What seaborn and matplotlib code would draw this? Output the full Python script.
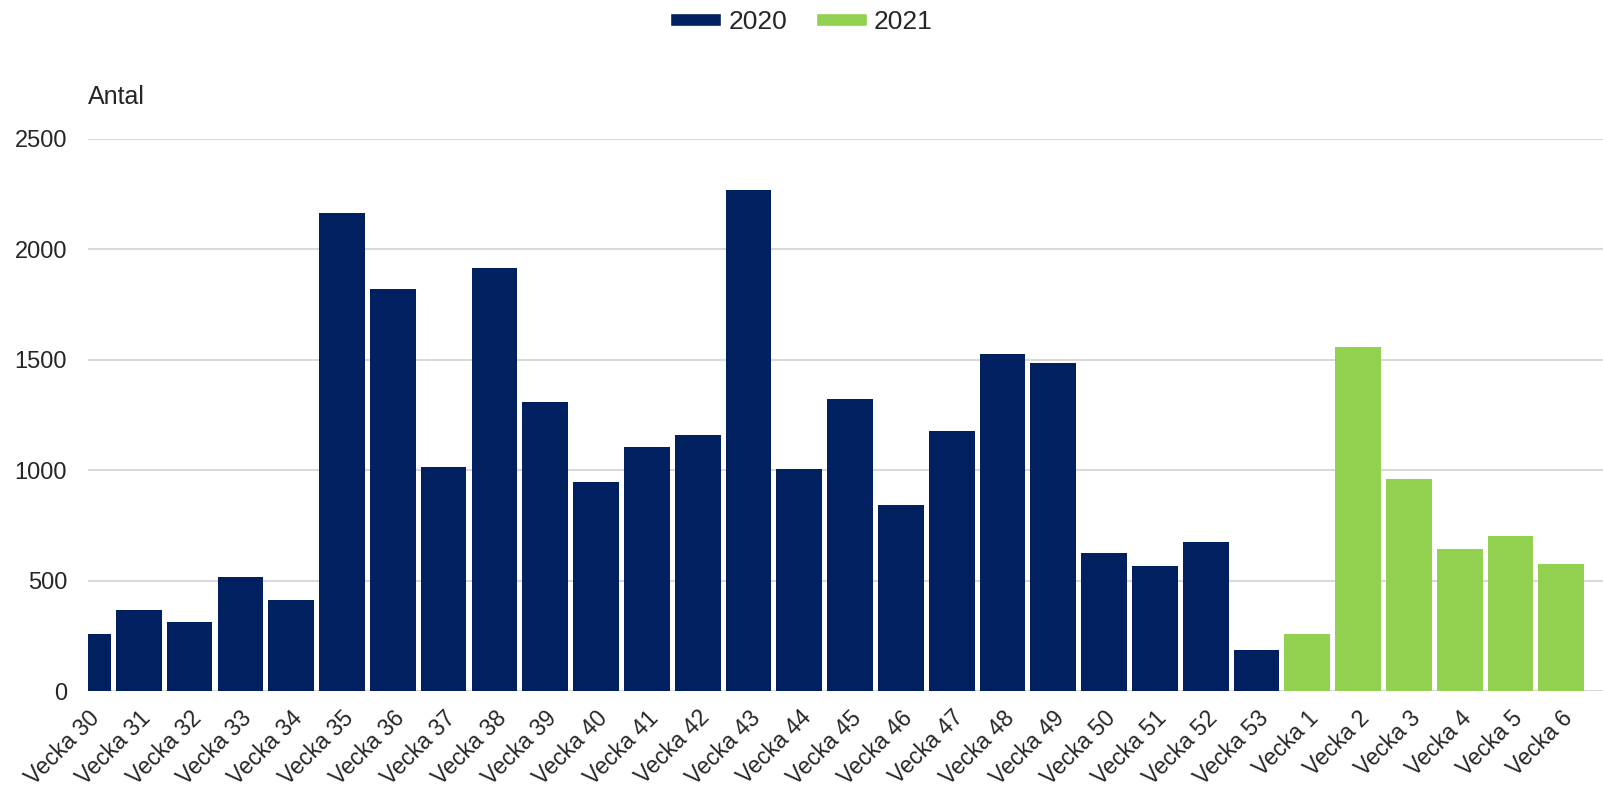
import pandas as pd
import matplotlib.pyplot as plt
import seaborn as sns
from matplotlib.patches import Patch

weeks = ["Vecka 30", "Vecka 31", "Vecka 32", "Vecka 33", "Vecka 34", "Vecka 35",
         "Vecka 36", "Vecka 37", "Vecka 38", "Vecka 39", "Vecka 40", "Vecka 41",
         "Vecka 42", "Vecka 43", "Vecka 44", "Vecka 45", "Vecka 46", "Vecka 47",
         "Vecka 48", "Vecka 49", "Vecka 50", "Vecka 51", "Vecka 52", "Vecka 53",
         "Vecka 1", "Vecka 2", "Vecka 3", "Vecka 4", "Vecka 5", "Vecka 6"]
antal = [258, 369, 311, 515, 412, 2165, 1822, 1016, 1917, 1308, 945, 1104,
         1160, 2271, 1007, 1321, 841, 1176, 1526, 1484, 625, 565, 676, 186,
         258, 1559, 961, 644, 703, 573]
years = ["2020"] * 24 + ["2021"] * 6

colors = {"2020": "#002060", "2021": "#92D050"}

df = pd.DataFrame({"week": weeks, "antal": antal, "year": years})

sns.set_style("white")
plt.rcParams["font.family"] = ["Liberation Sans", "DejaVu Sans"]

fig = plt.figure(figsize=(16.03, 7.89), dpi=100)
ax = fig.add_axes([88 / 1603, 1 - 691 / 789, 1 - 88 / 1603, (691 - 139) / 789])

sns.barplot(data=df, x="week", y="antal", hue="year", order=weeks,
            palette=colors, saturation=1, dodge=False, width=0.9, legend=False,
            edgecolor="none", ax=ax, zorder=3)

ax.set_xlim(0, 29.82)
ax.set_ylim(0, 2500)
ax.set_yticks([0, 500, 1000, 1500, 2000, 2500])
ax.yaxis.grid(True, color="#D9D9D9", linewidth=1.5, zorder=0)
ax.set_axisbelow(True)
for s in ax.spines.values():
    s.set_visible(False)
ax.set_xlabel("")
ax.set_ylabel("")
ax.tick_params(axis="y", length=0, pad=15, labelsize=17)
ax.tick_params(axis="x", length=0, pad=11, labelsize=16.5)
plt.setp(ax.get_xticklabels(), rotation=45, ha="right", rotation_mode="anchor")

fig.text(88 / 1603, 1 - 97 / 789, "Antal", fontsize=18, va="center", ha="left")

handles = [Patch(facecolor=colors["2020"], label="2020"),
           Patch(facecolor=colors["2021"], label="2021")]
fig.legend(handles=handles, loc="center", bbox_to_anchor=(0.5, 1 - 22 / 789),
           ncol=2, frameon=False, fontsize=19, handlelength=1.93,
           handleheight=0.38, handletextpad=0.27, columnspacing=1.1)

fig.savefig("out.png", dpi=100)
